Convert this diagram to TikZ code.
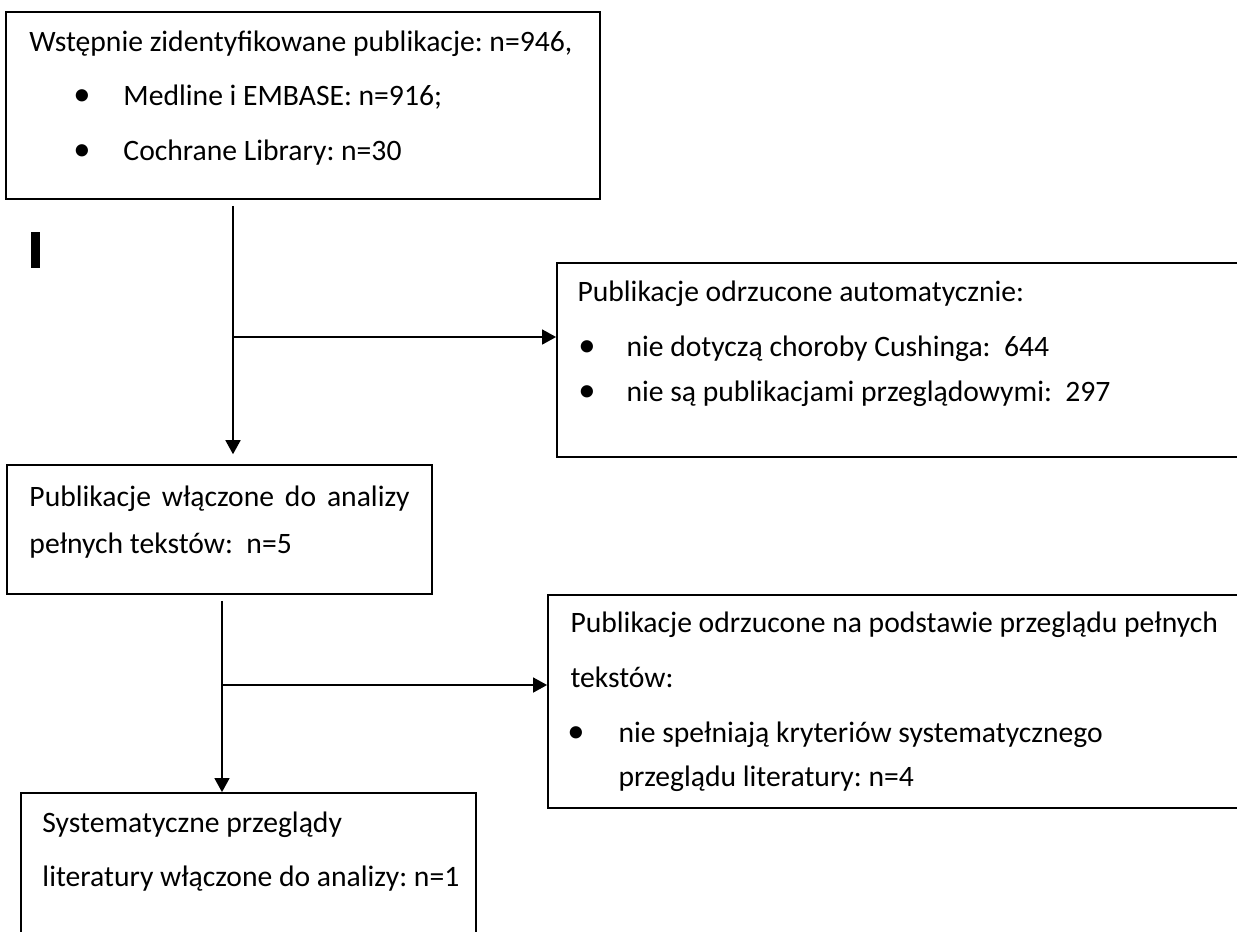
\documentclass[tikz,border=0pt]{standalone}
\usepackage{fontspec}
\setmainfont{Carlito}
\frenchspacing
\usepackage{tikz}
\usetikzlibrary{arrows.meta,fit}

\tikzset{
  box/.style={draw=black,line width=0.7pt,inner sep=0pt},
  txt/.style={anchor=mid west,inner sep=0pt,font=\fontsize{12}{14}\selectfont},
  dot/.style={anchor=mid,inner sep=0pt,font=\fontsize{14}{14}\selectfont},
  flow/.style={-{Triangle[length=5.7pt,width=6pt]},line width=0.9pt,black}
}

\begin{document}
\begin{tikzpicture}[x=0.405pt,y=-0.405pt]
% 1 unit = 1 px of the 1237 x 931 layout (y grows downward)
\fill[white] (0,0) rectangle (1237,931);
\useasboundingbox (0,0) rectangle (1237,931);
\clip (0,0) rectangle (1237,931);

% ── Boxes ───────────────────────────────────────────────────────
\node[box,fit={(6,12) (600,199)}] (found) {};
\node[box,fit={(557,263) (1260,457)}] (autoout) {};
\node[box,fit={(7,465) (432,594)}] (fulltext) {};
\node[box,fit={(548,595) (1260,808)}] (textout) {};
\node[box,fit={(21,793) (476,950)}] (included) {};

% stray mark on the left
\fill[black] (31,232) rectangle (40,268);

% ── Texts ───────────────────────────────────────────────────────
\node[txt] (t1) at (29,46) {Wstępnie zidentyfikowane publikacje: n=946,};
\node[dot] (b11) at (82,100) {•};
\node[txt] (t12) at (123,100) {Medline i EMBASE: n=916;};
\node[dot] (b12) at (82,155) {•};
\node[txt] (t13) at (123,155) {Cochrane Library: n=30};

\node[txt] (t2) at (577,296) {Publikacje odrzucone automatycznie:};
\node[dot] (b21) at (587,351) {•};
\node[txt] (t22) at (626,351) {nie dotyczą choroby Cushinga:\ \ 644};
\node[dot] (b22) at (587,396) {•};
\node[txt] (t23) at (626,396) {nie są publikacjami przeglądowymi:\ \ 297};

\node[txt] (t3) at (29,501)
 {\makebox[153.9pt][s]{Publikacje włączone do analizy}};
\node[txt] (t32) at (29,548) {pełnych tekstów:\ \ n=5};

\node[txt] (t4) at (570,627) {Publikacje odrzucone na podstawie przeglądu pełnych};
\node[txt] (t42) at (570,682) {tekstów:};
\node[dot] (b41) at (576,737) {•};
\node[txt] (t43) at (618,737) {nie spełniają kryteriów systematycznego};
\node[txt] (t44) at (618,781) {przeglądu literatury: n=4};

\node[txt] (t5) at (42,827) {Systematyczne przeglądy};
\node[txt] (t52) at (42,881) {literatury włączone do analizy: n=1};

% ── Connectors ──────────────────────────────────────────────────
\coordinate (split1) at (233,337);
\coordinate (split2) at (222,685);
\draw[flow,shorten <=2.4pt,shorten >=4pt]
 (found.south -| split1) -- (fulltext.north -| split1);
\draw[flow] (split1) -- (autoout.west |- split1);
\draw[flow,shorten <=2.4pt]
 (fulltext.south -| split2) -- (included.north -| split2);
\draw[flow] (split2) -- (textout.west |- split2);
\end{tikzpicture}
\end{document}
